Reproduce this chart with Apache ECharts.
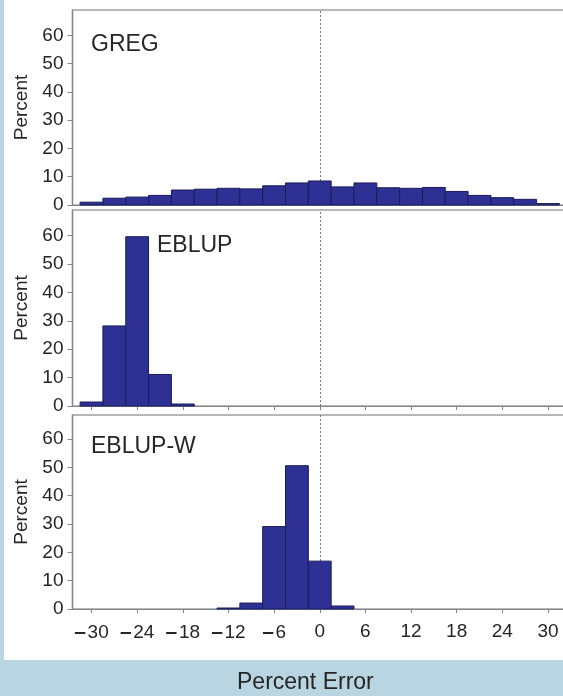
<!DOCTYPE html>
<html>
<head>
<meta charset="utf-8">
<script src="https://cdn.jsdelivr.net/npm/echarts@6/dist/echarts.min.js"></script>
<style>
  html, body { margin: 0; padding: 0; background: #b8d5e1; overflow: hidden; width: 563px; height: 696px; }
  #paper { position: absolute; left: 4px; top: 0; width: 559px; height: 660px; background: #ffffff; }
  #chart { position: absolute; left: 0; top: 0; width: 575px; height: 696px; }
</style>
</head>
<body>
<div id="paper"></div>
<div id="chart"></div>
<script>
// ---- data ----
var binWidth = 3;
var panelNames = ['GREG', 'EBLUP', 'EBLUP-W'];
var gregCenters = [-30, -27, -24, -21, -18, -15, -12, -9, -6, -3, 0, 3, 6, 9, 12, 15, 18, 21, 24, 27, 30];
var gregValues  = [1.0, 2.4, 2.8, 3.4, 5.3, 5.6, 5.9, 5.7, 6.8, 7.8, 8.5, 6.4, 7.8, 6.1, 5.9, 6.2, 4.8, 3.4, 2.6, 2.0, 0.5];
var eblupCenters = [-30, -27, -24, -21, -18];
var eblupValues  = [1.4, 28.2, 59.6, 11.1, 0.7];
var eblupwCenters = [-12, -9, -6, -3, 0, 3];
var eblupwValues  = [0.35, 2.1, 29.1, 50.6, 16.9, 1.06];
var xTicks = [-30, -24, -18, -12, -6, 0, 6, 12, 18, 24, 30];
var yTicks = [0, 10, 20, 30, 40, 50, 60];
var xAxisTitle = 'Percent Error';
var yAxisTitle = 'Percent';

// ---- style ----
var FONT = '"Liberation Sans", Arial, Helvetica, sans-serif';
var barFill = '#2e3193';
var barStroke = '#1b1c5a';
var frameColor = '#a0a0a0';
var axisColor = '#7f8791';
var textColor = '#262626';

function pairs(c, v) { return c.map(function (x, i) { return [x, v[i]]; }); }

var grids = [
  { left: 72.5, top: 10, right: 8, height: 195 },
  { left: 72.5, top: 210, right: 8, height: 196 },
  { left: 72.5, top: 415, right: 8, height: 194 }
];
var yMax = [69, 69, 68.5];
var datasets = [pairs(gregCenters, gregValues), pairs(eblupCenters, eblupValues), pairs(eblupwCenters, eblupwValues)];

function renderBin(params, api) {
  var x = api.value(0), v = api.value(1);
  var p0 = api.coord([x - binWidth / 2, v]);
  var p1 = api.coord([x + binWidth / 2, 0]);
  return {
    type: 'rect',
    shape: { x: p0[0], y: p0[1], width: p1[0] - p0[0], height: p1[1] - p0[1] },
    style: { fill: barFill, stroke: barStroke, lineWidth: 1 }
  };
}

var titleStyle = { fontFamily: FONT, fontSize: 23, fontWeight: 'normal', color: textColor };

var option = {
  animation: false,
  backgroundColor: 'transparent',
  textStyle: { fontFamily: FONT },
  title: [
    { text: panelNames[0], left: 91, top: 33, padding: 0, textStyle: titleStyle },
    { text: panelNames[1], left: 157, top: 234, padding: 0, textStyle: titleStyle },
    { text: panelNames[2], left: 91, top: 435, padding: 0, textStyle: titleStyle },
    { text: xAxisTitle, left: 237, top: 671, padding: 0, textStyle: titleStyle }
  ],
  grid: grids.map(function (g) {
    return Object.assign({ show: true, borderColor: frameColor, borderWidth: 1.5, backgroundColor: 'transparent' }, g);
  }),
  xAxis: [0, 1, 2].map(function (i) {
    return {
      type: 'value', gridIndex: i, min: -32.5, max: 32.5,
      axisLine: { show: true, onZero: false, lineStyle: { color: axisColor, width: 1.2 } },
      axisTick: { show: i > 0, inside: false, length: 4, customValues: xTicks, lineStyle: { color: axisColor } },
      axisLabel: {
        show: i === 2, customValues: xTicks, margin: 13,
        fontFamily: FONT, fontSize: 19, color: textColor,
        formatter: function (v) { return v < 0 ? '{m|\u2013}\u200a' + Math.abs(v) : String(v); },
        rich: { m: { fontFamily: FONT, fontSize: 21, fontWeight: 'bold', color: textColor } }
      },
      splitLine: { show: false }
    };
  }),
  yAxis: [0, 1, 2].map(function (i) {
    return {
      type: 'value', gridIndex: i, min: 0, max: yMax[i],
      name: yAxisTitle, nameLocation: 'middle', nameGap: 38,
      nameTextStyle: { fontFamily: FONT, fontSize: 19, color: textColor },
      axisLine: { show: true, onZero: false, lineStyle: { color: axisColor, width: 1.2 } },
      axisTick: { show: true, length: 5, customValues: yTicks, lineStyle: { color: axisColor } },
      axisLabel: { customValues: yTicks, margin: 9, fontFamily: FONT, fontSize: 19, color: textColor },
      splitLine: { show: false }
    };
  }),
  series: [0, 1, 2].map(function (i) {
    return {
      type: 'custom', xAxisIndex: i, yAxisIndex: i, z: 3,
      renderItem: renderBin,
      encode: { x: 0, y: 1 },
      data: datasets[i],
      markLine: {
        silent: true, z: 1, symbol: ['none', 'none'],
        label: { show: false },
        lineStyle: { type: [2, 2], color: '#777777', width: 1 },
        data: [{ xAxis: 0 }]
      }
    };
  })
};

var chart = echarts.init(document.getElementById('chart'), null, { renderer: 'canvas' });
chart.setOption(option);
</script>
</body>
</html>
